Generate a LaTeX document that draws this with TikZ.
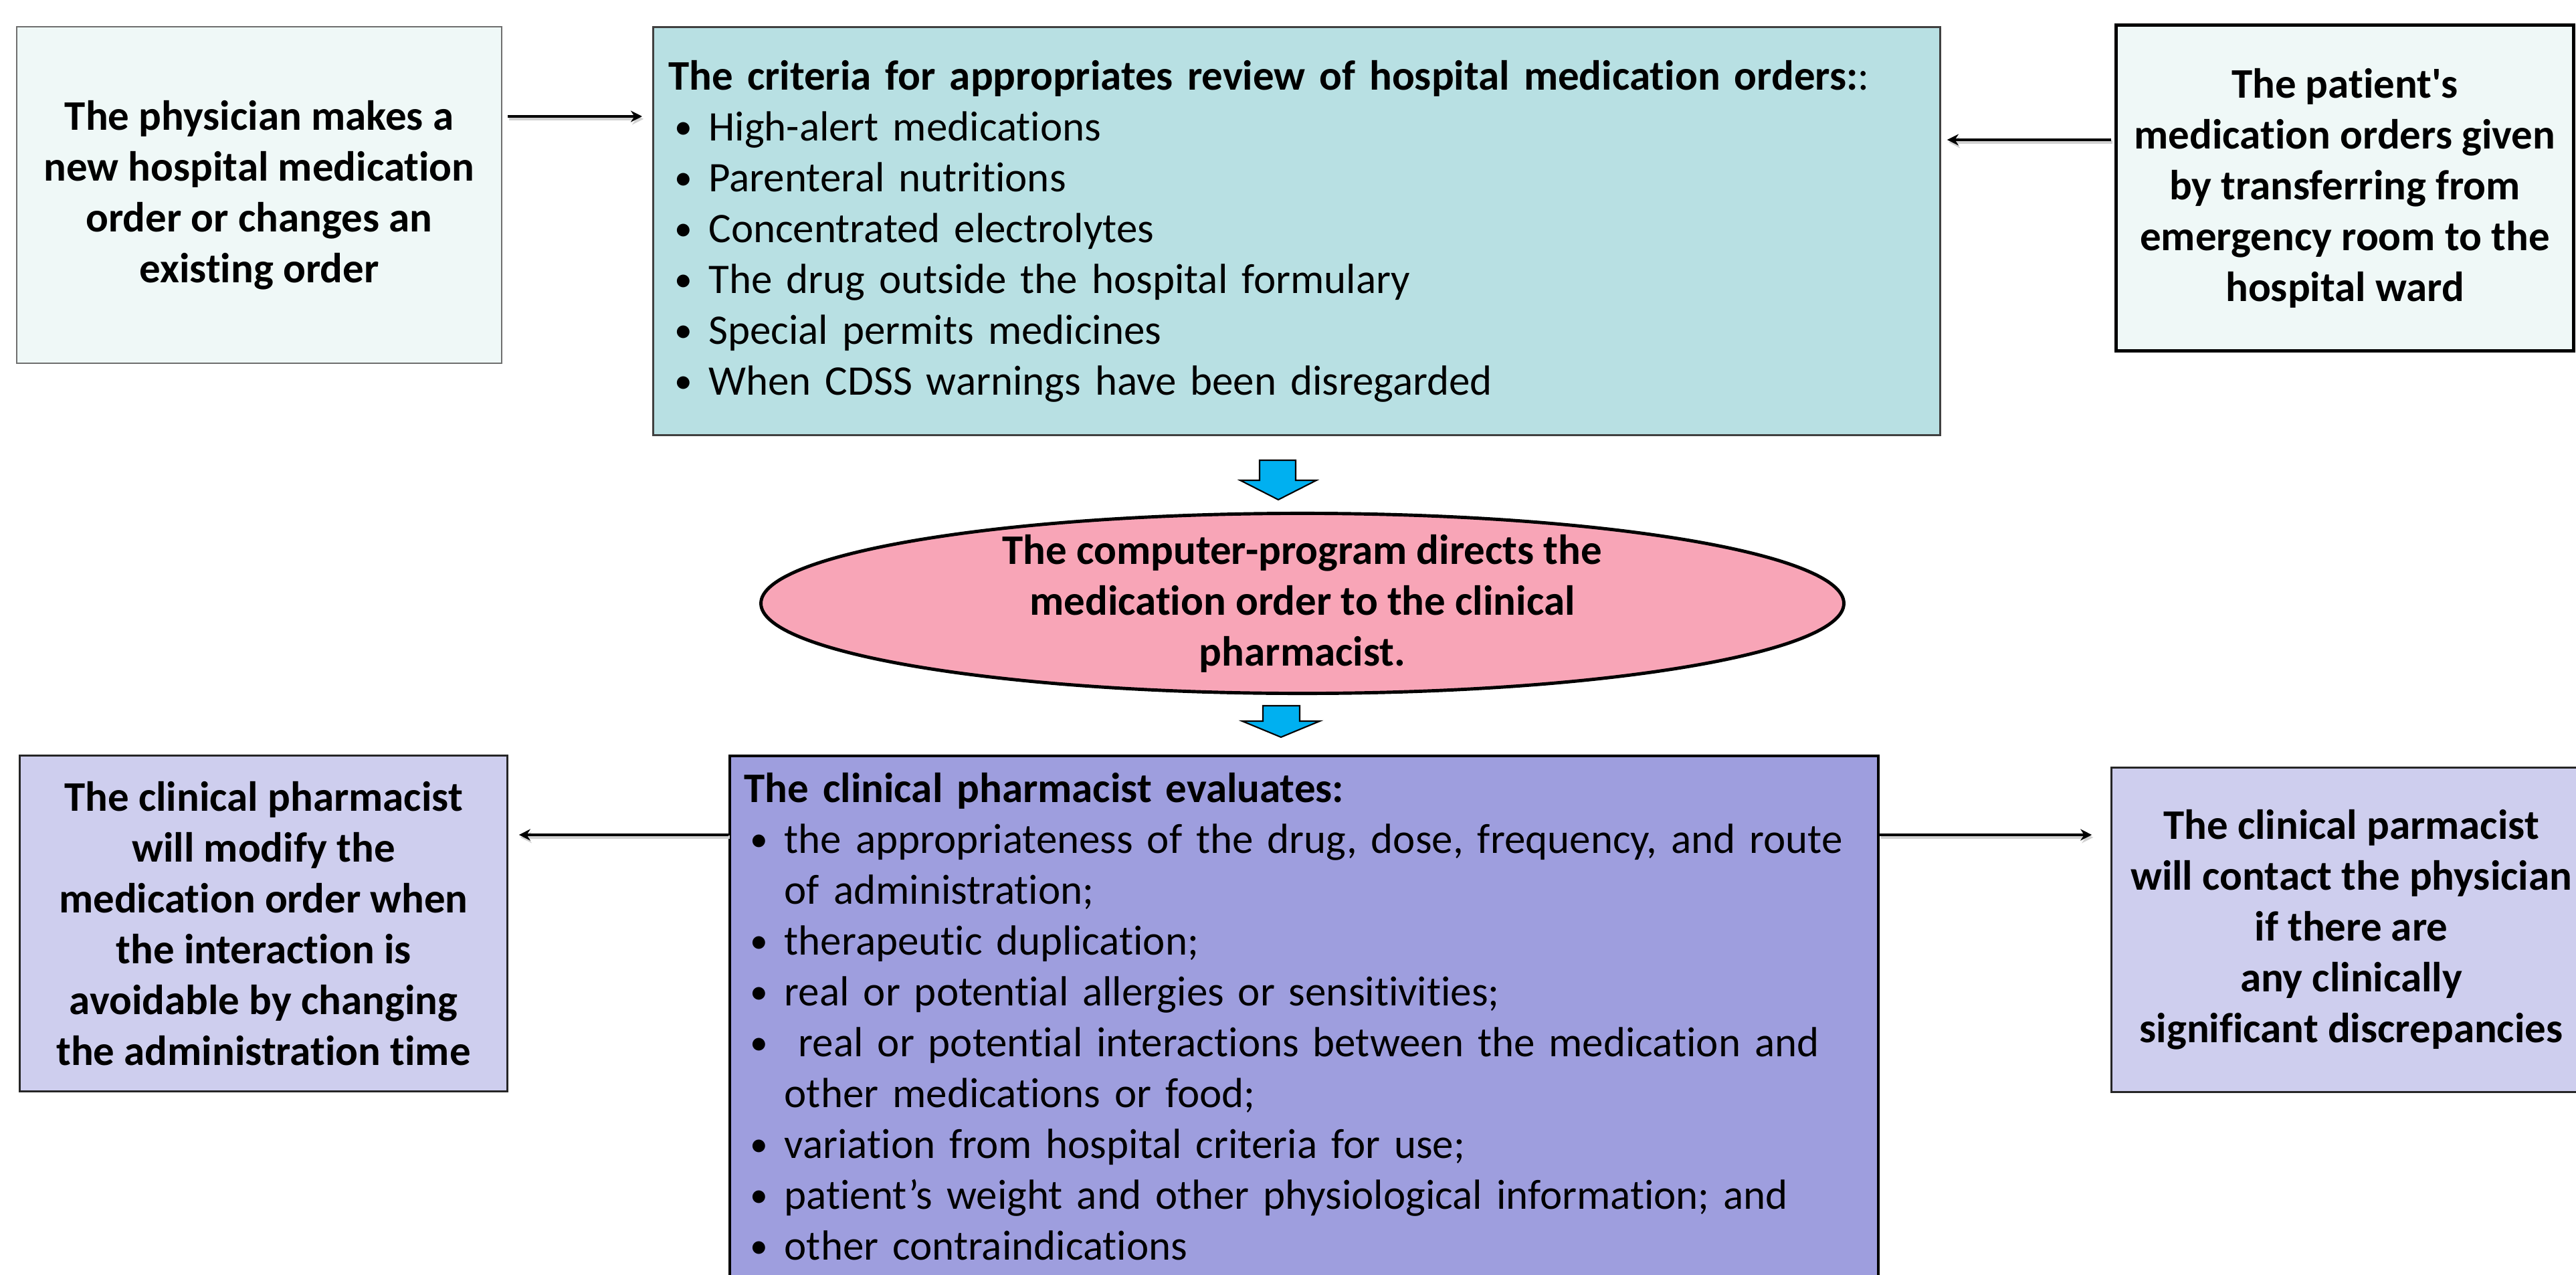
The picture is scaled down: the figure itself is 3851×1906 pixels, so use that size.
\documentclass[tikz,border=0pt]{standalone}
\usepackage{fontspec}
\setmainfont{Carlito}[Ligatures={TeX,NoCommon}]
\usetikzlibrary{arrows.meta,shapes.geometric}
\definecolor{paleaqua}{RGB}{239,248,247}
\definecolor{critfill}{RGB}{184,224,227}
\definecolor{ovalpink}{RGB}{248,165,183}
\definecolor{evalfill}{RGB}{158,158,222}
\definecolor{sidelav}{RGB}{206,206,238}
\definecolor{flowblue}{RGB}{0,176,240}
\definecolor{boxgray}{RGB}{110,110,110}
\newcommand\bodyfont{\fontsize{17.9pt}{21.6pt}\selectfont}
\newcommand\bul{\hspace*{0.09cm}\makebox[0.51cm][l]{\raisebox{0.03cm}{\scalebox{0.85}{\textbullet}}}}
\newcommand\cont{\hspace*{0.60cm}}
\begin{document}
\begin{tikzpicture}[x=0.01cm,y=-0.01cm,
  boxbase/.style={rectangle, inner sep=0pt, font=\bodyfont\bfseries, align=center},
  conn/.style={-{Stealth[length=0.17cm,width=0.17cm]}, line width=1.2pt,
    preaction={draw=black!18, line width=1.4pt, transform canvas={xshift=0.6pt,yshift=-1.1pt}}},
  flowarrow/.style={fill=flowblue, draw=black, line width=0.6pt, line join=miter}]
\useasboundingbox (0,0) rectangle (3851,1906);
\clip (0,0) rectangle (3851,1906);

% top row
\node[boxbase, fill=paleaqua, draw=boxgray, line width=0.6pt,
      minimum width=7.25cm, minimum height=5.03cm] (phys) at (387.5,291.5)
  {The physician makes a\\new hospital medication\\order or changes an\\existing order};

\node[rectangle, anchor=north west, fill=critfill, draw=black!75, line width=0.8pt,
      minimum width=19.23cm, minimum height=6.10cm, text width=18.77cm,
      inner xsep=0.23cm, inner ysep=0pt, align=left, font=\bodyfont] (crit) at (975,39)
  {\textbf{The criteria for appropriates review of hospital medication orders:}:\\
   \bul High-alert medications\\
   \bul Parenteral nutritions\\
   \bul Concentrated electrolytes\\
   \bul The drug outside the hospital formulary\\
   \bul Special permits medicines\\
   \bul When CDSS warnings have been disregarded};

\node[boxbase, fill=paleaqua, draw=black, line width=1.5pt,
      minimum width=6.83cm, minimum height=4.86cm] (ward) at (3505.5,281)
  {The patient\textquotesingle s\\medication orders given\\by transferring from\\emergency room to the\\hospital ward};

% middle
\node[ellipse, fill=ovalpink, draw=black, line width=1.4pt, font=\bodyfont\bfseries,
      align=center, inner xsep=0pt, inner ysep=-0.25cm,
      minimum width=16.18cm, minimum height=2.69cm] (prog) at (1947,902)
  {The computer-program directs the\\medication order to the clinical\\pharmacist.};

% bottom row
\node[boxbase, fill=sidelav, draw=black!85, line width=0.9pt,
      minimum width=7.28cm, minimum height=5.01cm] (modify) at (394,1380.5)
  {The clinical pharmacist\\will modify the\\medication order when\\the interaction is\\avoidable by changing\\the administration time};

\node[rectangle, anchor=north west, fill=evalfill, draw=black, line width=1pt,
      text width=16.72cm, inner xsep=0.22cm, inner ysep=0.26cm, text height=0.44cm,
      align=left, font=\bodyfont] (evals) at (1089,1128)
  {\textbf{The clinical pharmacist evaluates:}\\
   \bul the appropriateness of the drug, dose, frequency, and route\\
   \cont of administration;\\
   \bul therapeutic duplication;\\
   \bul real or potential allergies or sensitivities;\\
   \bul\ real or potential interactions between the medication and\\
   \cont other medications or food;\\
   \bul variation from hospital criteria for use;\\
   \bul patient’s weight and other physiological information; and\\
   \bul other contraindications\rule[-1.2cm]{0pt}{0pt}};

\node[boxbase, fill=sidelav, draw=black!85, line width=0.9pt,
      minimum width=7.16cm, minimum height=4.84cm] (contact) at (3515,1390)
  {The clinical parmacist\\ will contact the physician\\if there are\\any clinically\\significant discrepancies};

% connectors
\coordinate (ya) at (0,174);
\coordinate (yb) at (0,209);
\coordinate (yc) at (0,1248);
\draw[conn, shorten <=0.08cm, shorten >=0.15cm] (phys.east |- ya) -- (crit.west |- ya);
\draw[conn, shorten <=0.05cm, shorten >=0.09cm] (ward.west |- yb) -- (crit.east |- yb);
\draw[conn, shorten >=0.16cm] (evals.west |- yc) -- (modify.east |- yc);
\draw[conn, shorten >=0.28cm] (evals.east |- yc) -- (contact.west |- yc);

% block arrows between crit -> prog -> evals
\draw[flowarrow] (1883,688) -- (1937,688) -- (1937,718) -- (1968,718) -- (1911,747)
  -- (1854,718) -- (1883,718) -- cycle;
\draw[flowarrow] (1888,1055) -- (1943,1055) -- (1943,1078) -- (1973,1078) -- (1915,1102)
  -- (1857,1078) -- (1888,1078) -- cycle;
\end{tikzpicture}
\end{document}
